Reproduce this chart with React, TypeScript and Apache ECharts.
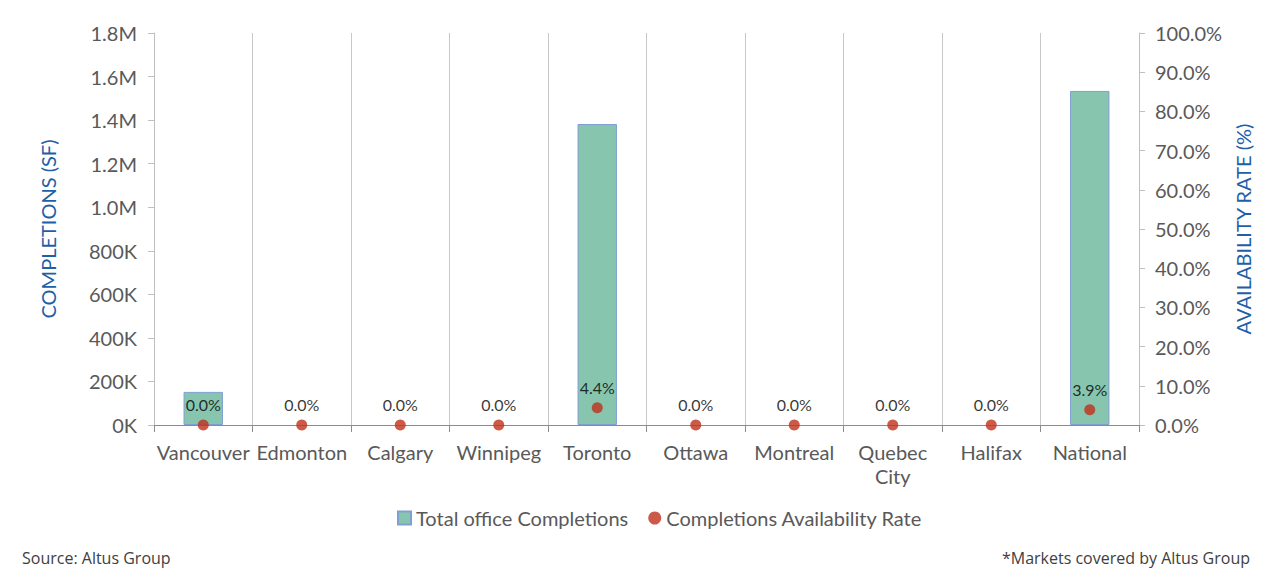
import React, { useEffect, useRef } from "react";
import * as echarts from "echarts";

const categories = ["Vancouver", "Edmonton", "Calgary", "Winnipeg", "Toronto", "Ottawa", "Montreal", "Quebec\nCity", "Halifax", "National"];
const completions = [152000, 0, 0, 0, 1382000, 0, 0, 0, 0, 1534000];
const availability = [0.0, 0.0, 0.0, 0.0, 4.4, 0.0, 0.0, 0.0, 0.0, 3.9];

const FONT = "Lato, 'Open Sans', sans-serif";

export default function App() {
  const ref = useRef<HTMLDivElement>(null);
  useEffect(() => {
    const chart = echarts.init(ref.current!, null, { renderer: "svg" });
    chart.setOption({
      animation: false,
      textStyle: { fontFamily: FONT },
      grid: { left: 154, right: 132, top: 33, bottom: 161, containLabel: false },
      legend: {
        bottom: 53,
        left: 392,
        itemGap: 20,
        itemWidth: 13,
        itemHeight: 13,
        textStyle: { fontSize: 20, color: "#595959", fontFamily: FONT },
        data: [
          { name: "Total office Completions", icon: "rect" },
          { name: "Completions Availability Rate", icon: "circle" },
        ],
      },
      xAxis: {
        type: "category",
        data: categories,
        boundaryGap: true,
        axisLine: { show: true, lineStyle: { color: "#8c8c8c", width: 1 } },
        axisTick: { show: true, length: 7, lineStyle: { color: "#8c8c8c" } },
        axisLabel: { fontSize: 20, color: "#595959", margin: 15, lineHeight: 24, interval: 0, fontFamily: FONT },
        splitLine: { show: true, lineStyle: { color: "#c9c9c9", width: 1 } },
      },
      yAxis: [
        {
          type: "value",
          min: 0,
          max: 1800000,
          interval: 200000,
          name: "COMPLETIONS (SF)",
          nameLocation: "middle",
          nameGap: 96,
          nameRotate: 90,
          nameTextStyle: { fontSize: 20, color: "#1f5fa8", fontFamily: FONT },
          axisLine: { show: true, lineStyle: { color: "#bfbfbf" } },
          axisTick: { show: true, length: 6, lineStyle: { color: "#bfbfbf" } },
          axisLabel: {
            fontSize: 20,
            color: "#595959",
            margin: 17,
            fontFamily: FONT,
            formatter: (v: number) => (v >= 1000000 ? (v / 1000000).toFixed(1) + "M" : v / 1000 + "K"),
          },
          splitLine: { show: false },
        },
        {
          type: "value",
          min: 0,
          max: 100,
          interval: 10,
          name: "AVAILABILITY RATE (%)",
          nameLocation: "middle",
          nameGap: 94,
          nameRotate: 90,
          nameTextStyle: { fontSize: 20, color: "#1f5fa8", fontFamily: FONT },
          axisLine: { show: true, lineStyle: { color: "#bfbfbf" } },
          axisTick: { show: true, length: 6, lineStyle: { color: "#bfbfbf" } },
          axisLabel: {
            fontSize: 20,
            color: "#595959",
            margin: 16,
            fontFamily: FONT,
            formatter: (v: number) => v.toFixed(1) + "%",
          },
          splitLine: { show: false },
        },
      ],
      series: [
        {
          name: "Total office Completions",
          type: "bar",
          data: completions.map((v) => ({ value: v, itemStyle: v === 0 ? { borderWidth: 0, opacity: 0 } : undefined })),
          barWidth: "40%",
          itemStyle: { color: "#88c5ae", borderColor: "#7f9fd3", borderWidth: 1 },
        },
        {
          name: "Completions Availability Rate",
          type: "scatter",
          yAxisIndex: 1,
          data: availability,
          symbol: "circle",
          symbolSize: 11,
          itemStyle: { color: "#c0301c" },
          label: {
            show: true,
            position: "top",
            distance: 7,
            fontSize: 16,
            color: "#000000",
            fontFamily: FONT,
            formatter: (p: any) => Number(p.value).toFixed(1) + "%",
          },
          z: 5,
        },
      ],
      graphic: [
        {
          type: "text",
          left: 22,
          top: 550,
          style: { text: "Source: Altus Group", fontSize: 16, fill: "#404040", fontFamily: "'Liberation Sans Narrow', 'Open Sans', sans-serif" },
        },
        {
          type: "text",
          right: 21,
          top: 550,
          style: { text: "*Markets covered by Altus Group", fontSize: 16, fill: "#404040", fontFamily: "'Liberation Sans Narrow', 'Open Sans', sans-serif" },
        },
      ],
    });
    return () => chart.dispose();
  }, []);
  return <div ref={ref} style={{ position: "fixed", left: 0, top: 0, width: 1271, height: 586, background: "#fff" }} />;
}
